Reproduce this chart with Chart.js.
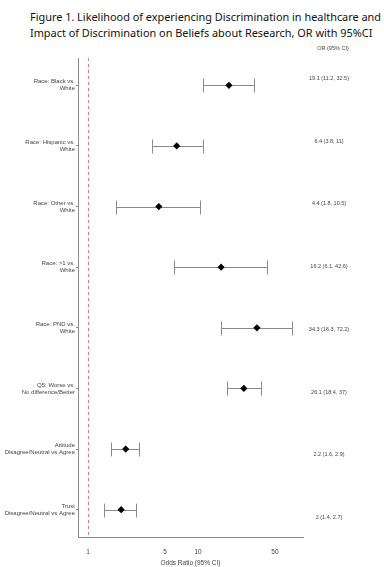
<!DOCTYPE html>
<html>
<head>
<meta charset="utf-8">
<script src="https://cdn.jsdelivr.net/npm/chart.js@4.4.1/dist/chart.umd.min.js"></script>
<style>
  html, body { margin: 0; padding: 0; background: #fff; }
  #wrap { position: relative; width: 384px; height: 567px; }
  #title { position: absolute; left: 30px; top: 9px; font-family: "Noto Sans", sans-serif; font-size: 10.9px; line-height: 16px; color: #111; white-space: nowrap; }
  canvas { position: absolute; left: 0; top: 0; }
</style>
</head>
<body>
<div id="wrap">
  <div id="title">Figure 1. Likelihood of experiencing Discrimination in healthcare and<br>Impact of Discrimination on Beliefs about Research, OR with 95%CI</div>
  <canvas id="forest" width="384" height="567"></canvas>
</div>
<script>
// Données
const categories = [
    ['Race: Black vs.', 'White'],
    ['Race: Hispanic vs.', 'White'],
    ['Race: Other vs.', 'White'],
    ['Race: >1 vs.', 'White'],
    ['Race: PND vs.', 'White'],
    ['Q5: Worse vs.', 'No difference/Better'],
    ['Attitude', 'Disagree/Neutral vs Agree'],
    ['Trust', 'Disagree/Neutral vs Agree']
];
const oddsRatio = [19.1, 6.4, 4.4, 16.2, 34.3, 26.1, 2.2, 2];
const ciLow = [11.2, 3.8, 1.8, 6.1, 16.3, 18.4, 1.6, 1.4];
const ciHigh = [32.5, 11, 10.5, 42.6, 72.2, 37, 2.9, 2.7];
const xTicks = [1, 5, 10, 50];

const grey = '#8a8a8a';
const textColor = '#444';

// Barres d'erreur + ligne de référence + colonne OR (95% CI)
const forestPlugin = {
    id: 'forest',
    beforeDatasetsDraw(chart) {
        const { ctx, chartArea, scales: { x, y } } = chart;
        ctx.save();
        // ligne de référence OR = 1
        ctx.strokeStyle = '#e07b86';
        ctx.lineWidth = 1;
        ctx.setLineDash([3, 3]);
        const x1 = Math.round(x.getPixelForValue(1)) + 0.5;
        ctx.beginPath();
        ctx.moveTo(x1, chartArea.top);
        ctx.lineTo(x1, chartArea.bottom);
        ctx.stroke();
        ctx.setLineDash([]);

        ctx.strokeStyle = grey;
        oddsRatio.forEach((v, i) => {
            const py = Math.round(y.getPixelForValue(i)) + 0.5;
            const xl = Math.round(x.getPixelForValue(ciLow[i])) + 0.5;
            const xh = Math.round(x.getPixelForValue(ciHigh[i])) + 0.5;
            ctx.beginPath();
            ctx.moveTo(xl, py);
            ctx.lineTo(xh, py);
            ctx.moveTo(xl, py - 7);
            ctx.lineTo(xl, py + 7);
            ctx.moveTo(xh, py - 7);
            ctx.lineTo(xh, py + 7);
            ctx.stroke();
        });
        ctx.restore();
    },
    afterDraw(chart) {
        const { ctx, scales: { y } } = chart;
        ctx.save();
        ctx.fillStyle = textColor;
        ctx.textAlign = 'center';
        ctx.textBaseline = 'middle';
        ctx.font = '5.5px Arial, "Liberation Sans"';
        ctx.fillText('OR (95% CI)', 333, 48);
        oddsRatio.forEach((v, i) => {
            const py = y.getPixelForValue(i) - 7 + i * 15 / 7;
            ctx.fillText(`${v} (${ciLow[i]}, ${ciHigh[i]})`, 329, py);
        });
        ctx.restore();
    }
};

document.addEventListener('DOMContentLoaded', () => {
    const ctx = document.getElementById('forest').getContext('2d');
    new Chart(ctx, {
        type: 'scatter',
        data: {
            datasets: [{
                data: oddsRatio.map((v, i) => ({ x: v, y: i })),
                pointStyle: 'rectRot',
                pointRadius: 3.6,
                backgroundColor: '#000',
                borderColor: '#000',
                borderWidth: 0
            }]
        },
        options: {
            responsive: false,
            animation: false,
            layout: { padding: { top: 58, right: 81, left: 0, bottom: 0 } },
            plugins: {
                legend: { display: false },
                tooltip: { enabled: false }
            },
            scales: {
                x: {
                    type: 'logarithmic',
                    min: 0.81,
                    max: 90,
                    afterBuildTicks: axis => { axis.ticks = xTicks.map(v => ({ value: v })); },
                    afterFit: axis => { axis.height = 30; },
                    grid: { display: false },
                    border: { display: true, color: grey, width: 1 },
                    ticks: {
                        color: textColor,
                        font: { family: 'Arial', size: 6.5 },
                        padding: 3,
                        autoSkip: false,
                        maxRotation: 0,
                        callback: v => String(v)
                    },
                    title: {
                        display: true,
                        text: 'Odds Ratio (95% CI)',
                        color: textColor,
                        font: { family: 'Arial', size: 6.5 },
                        padding: { top: 4, bottom: 0 }
                    }
                },
                y: {
                    type: 'linear',
                    reverse: true,
                    min: -0.45,
                    max: 7.45,
                    afterBuildTicks: axis => { axis.ticks = categories.map((c, i) => ({ value: i })); },
                    afterFit: axis => { axis.width = 78; },
                    grid: { drawOnChartArea: false, drawTicks: true, tickLength: 2, color: grey },
                    border: { display: true, color: grey, width: 1 },
                    ticks: {
                        color: textColor,
                        font: { family: 'Arial', size: 6, lineHeight: 1.15 },
                        padding: 1,
                        autoSkip: false,
                        callback: (v) => categories[v]
                    }
                }
            }
        },
        plugins: [forestPlugin]
    });
});
</script>
</body>
</html>
